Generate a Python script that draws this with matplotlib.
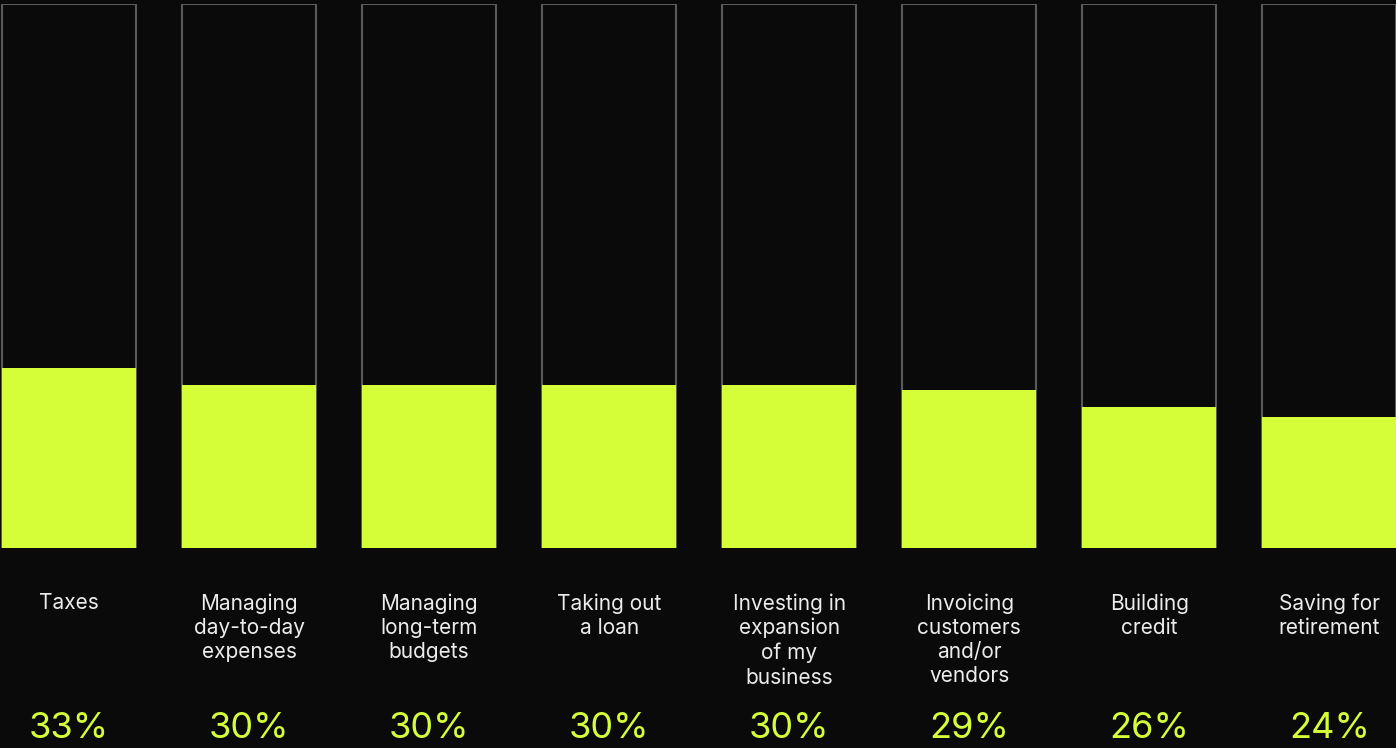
import matplotlib.pyplot as plt
from matplotlib.transforms import blended_transform_factory

plt.rcParams['font.family'] = ['Inter', 'DejaVu Sans']

# survey data
categories = [
    "Taxes",
    "Managing\nday-to-day\nexpenses",
    "Managing\nlong-term\nbudgets",
    "Taking out\na loan",
    "Investing in\nexpansion\nof my\nbusiness",
    "Invoicing\ncustomers\nand/or\nvendors",
    "Building\ncredit",
    "Saving for\nretirement",
]
values = [33, 30, 30, 30, 30, 29, 26, 24]

BG = "#0a0a0a"
LIME = "#d5fe38"
OUTLINE = "#5a5a5a"

W, H = 1396, 748
fig = plt.figure(figsize=(W / 100, H / 100), dpi=100, facecolor=BG)
# axes: bars span from y=4px to y=548px
ax = fig.add_axes([0, (H - 548) / H, 1, 544 / H])
ax.set_facecolor(BG)

x = list(range(len(values)))
bw = 0.745
ax.bar(x, [100] * len(values), width=bw, facecolor="none", edgecolor=OUTLINE, linewidth=1.5)
ax.bar(x, values, width=bw, color=LIME, linewidth=0)

ax.set_xlim(-0.383, 7.37)
ax.set_ylim(0, 100)
ax.axis("off")

trans = blended_transform_factory(ax.transData, fig.transFigure)
for xi, label, v in zip(x, categories, values):
    fig.text(xi, 1 - 593 / H, label, transform=trans, ha="center", va="top",
             color="#ececec", fontsize=15, linespacing=1.27)
    fig.text(xi, 1 - 738 / H, f"{v}%", transform=trans, ha="center", va="baseline",
             color=LIME, fontsize=26)

fig.savefig("out.png", dpi=100, facecolor=BG)
